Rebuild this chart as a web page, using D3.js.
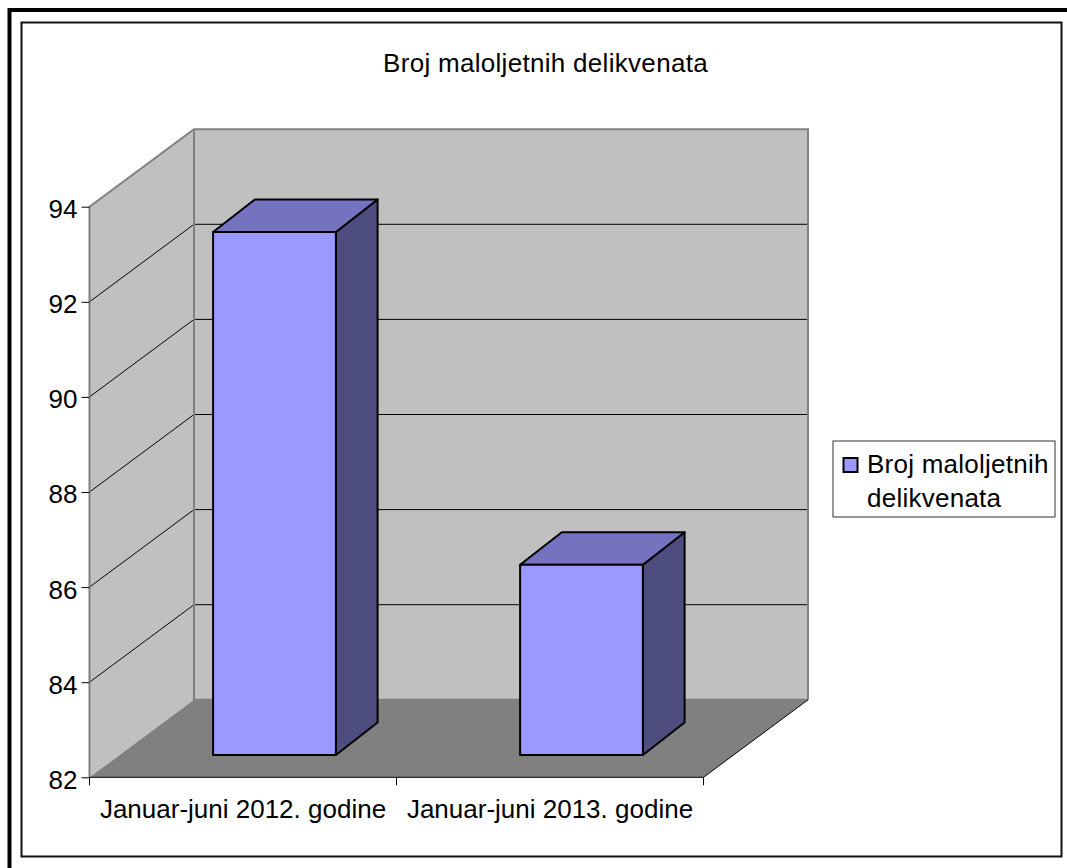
<!DOCTYPE html>
<html><head><meta charset="utf-8">
<script src="https://cdnjs.cloudflare.com/ajax/libs/d3/7.8.5/d3.min.js"></script>
<style>html,body{margin:0;padding:0;background:#fff}svg{display:block}text{font-family:"Liberation Sans",Arial,sans-serif;fill:#000}</style>
</head><body><svg id="c" width="1067" height="868"></svg>
<script>
const categories = ["Januar-juni 2012. godine", "Januar-juni 2013. godine"];
const values = [93, 86];
const yTicks = [82, 84, 86, 88, 90, 92, 94];
const title = "Broj maloljetnih delikvenata";
const legendLines = ["Broj maloljetnih", "delikvenata"];

const svg = d3.select("#c");
const X0 = 89.5, X1 = 703.5, Y0 = 777.3, Y1 = 206.7;
const DX = 104.5, DY = -77.5;
const FS = 26;
const y = d3.scaleLinear().domain([82, 94]).range([Y0, Y1]);
const x = d3.scaleBand().domain(categories).range([X0, X1]).paddingInner(0.6).paddingOuter(0.3);
const step = x.step();
const pts = a => a.map(p => p.join(",")).join(" ");

// page frames
svg.append("path").attr("d", "M9.5,868V10H1067").attr("fill", "none").attr("stroke", "#000").attr("stroke-width", 4);
svg.append("path").attr("d", "M1061.5,22.5H21.5V856.5H1061.5Z").attr("fill", "none").attr("stroke", "#111").attr("stroke-width", 2);

// walls and floor
const B0 = Y0 + DY, B1 = Y1 + DY;
svg.append("polygon").attr("points", pts([[X0 + DX, B1], [X1 + DX, B1], [X1 + DX, B0], [X0 + DX, B0]])).attr("fill", "#c0c0c0");
svg.append("polygon").attr("points", pts([[X0, Y1], [X0 + DX, B1], [X0 + DX, B0], [X0, Y0]])).attr("fill", "#c0c0c0");
svg.append("polygon").attr("points", pts([[X0, Y0], [X0 + DX, B0], [X1 + DX, B0], [X1, Y0]])).attr("fill", "#808080");

// gridlines
svg.append("g").selectAll("polyline").data(yTicks.filter(t => t > 82 && t < 94)).join("polyline")
  .attr("points", t => pts([[X0, y(t)], [X0 + DX, y(t) + DY], [X1 + DX, y(t) + DY]]))
  .attr("fill", "none").attr("stroke", "#000").attr("stroke-width", 1);

// wall borders
svg.append("polyline").attr("points", pts([[X0, Y0], [X0, Y1], [X0 + DX, B1], [X1 + DX, B1], [X1 + DX, B0]]))
  .attr("fill", "none").attr("stroke", "#808080").attr("stroke-width", 2);
svg.append("polyline").attr("points", pts([[X0 + DX, B1], [X0 + DX, B0], [X1 + DX, B0]]))
  .attr("fill", "none").attr("stroke", "#808080").attr("stroke-width", 2);
svg.append("polyline").attr("points", pts([[X0, Y0], [X1, Y0], [X1 + DX, B0]]))
  .attr("fill", "none").attr("stroke", "#000").attr("stroke-width", 1);

// bars
const fx = 31.5, fy = -22.3, bx = 41.7, by = -32.5;
const bars = svg.append("g").selectAll("g").data(categories.map((c, i) => ({c, v: values[i]}))).join("g")
  .attr("stroke", "#000").attr("stroke-width", 2).attr("stroke-linejoin", "round");
const L = d => x(d.c) + fx, R = d => x(d.c) + fx + x.bandwidth(), T = d => y(d.v) + fy, Bt = () => Y0 + fy;
bars.append("polygon").attr("fill", "#4d4d80").attr("points", d => pts([[R(d), T(d)], [R(d) + bx, T(d) + by], [R(d) + bx, Bt() + by], [R(d), Bt()]]));
bars.append("polygon").attr("fill", "#7373bf").attr("points", d => pts([[L(d), T(d)], [L(d) + bx, T(d) + by], [R(d) + bx, T(d) + by], [R(d), T(d)]]));
bars.append("rect").attr("fill", "#9999ff").attr("x", L).attr("y", T).attr("width", x.bandwidth()).attr("height", d => Bt() - T(d));

// y axis
const gy = svg.append("g").attr("transform", `translate(${X0},0)`)
  .call(d3.axisLeft(y).tickValues(yTicks).tickSize(8).tickPadding(4).tickFormat(d3.format("d")));
gy.select(".domain").remove();
gy.selectAll("line").attr("stroke", "#000");
gy.selectAll("text").attr("font-size", FS).attr("font-family", null).attr("dy", "0.42em");

// x axis
const gx = svg.append("g").attr("transform", `translate(0,${Y0})`)
  .call(d3.axisBottom(x).tickSize(0).tickPadding(22.5));
gx.select(".domain").remove();
gx.selectAll("text").attr("font-size", FS).attr("font-family", null).attr("dy", "0.71em");
svg.append("g").selectAll("line").data(d3.range(categories.length + 1)).join("line")
  .attr("x1", i => X0 + i * step).attr("x2", i => X0 + i * step)
  .attr("y1", Y0).attr("y2", Y0 + 8).attr("stroke", "#000");

// title
svg.append("text").attr("x", 545.5).attr("y", 72).attr("text-anchor", "middle").attr("font-size", FS).attr("letter-spacing", 0.3).text(title);

// legend
svg.append("rect").attr("x", 833).attr("y", 441).attr("width", 222).attr("height", 76).attr("fill", "#fff").attr("stroke", "#333").attr("stroke-width", 1);
svg.append("rect").attr("x", 843.5).attr("y", 458).attr("width", 14).attr("height", 14).attr("fill", "#9999ff").attr("stroke", "#000").attr("stroke-width", 2);
svg.append("g").selectAll("text").data(legendLines).join("text")
  .attr("x", 867).attr("y", (d, i) => 473 + i * 34).attr("font-size", FS).attr("letter-spacing", 0.25).text(d => d);
</script></body></html>
